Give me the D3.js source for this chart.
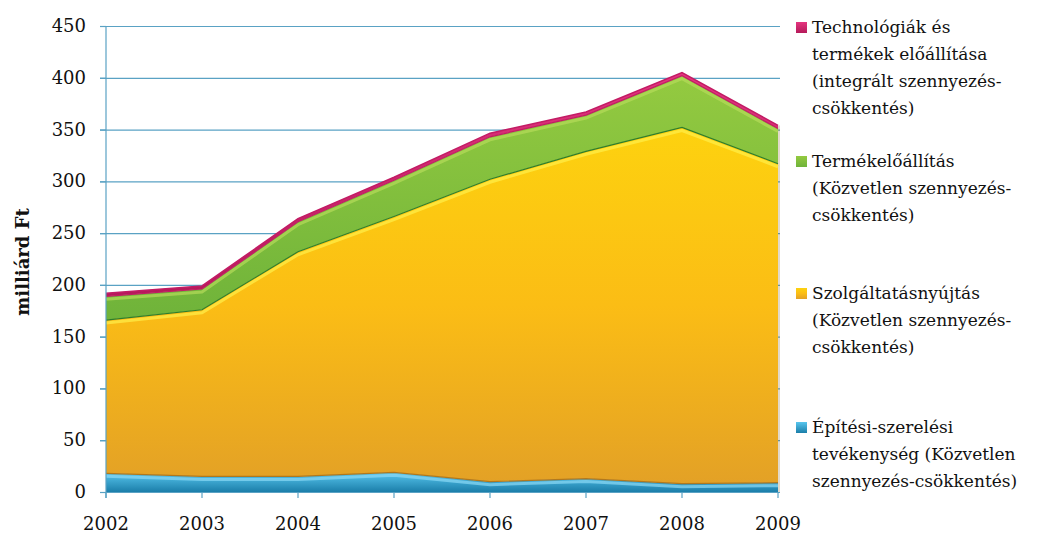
<!DOCTYPE html>
<html><head><meta charset="utf-8">
<script src="https://cdn.jsdelivr.net/npm/d3@7"></script>
<style>body{margin:0;background:#fff}svg{display:block}
svg text{font-family:"DejaVu Serif",serif;}</style>
</head><body>
<svg id="c" width="1044" height="535"></svg>
<script>
const years = [2002, 2003, 2004, 2005, 2006, 2007, 2008, 2009];
const epites = [18, 15, 15, 19, 10, 13, 8, 9];
const szolg = [148, 161, 217, 247, 292, 316, 344, 308];
const termek = [23, 20, 29, 35, 41, 35, 50, 34];
const techn = [3, 3, 3, 3, 3.5, 3, 3, 3];
const yTicks = [0, 50, 100, 150, 200, 250, 300, 350, 400, 450];
const seriesNames = ["epites", "szolg", "termek", "techn"];
const legendLines = [
  ["Technológiák és", "termékek előállítása", "(integrált szennyezés-", "csökkentés)"],
  ["Termékelőállítás", "(Közvetlen szennyezés-", "csökkentés)"],
  ["Szolgáltatásnyújtás", "(Közvetlen szennyezés-", "csökkentés)"],
  ["Építési-szerelési", "tevékenység (Közvetlen", "szennyezés-csökkentés)"]
];

const rows = years.map((y, i) => ({year: y, epites: epites[i], szolg: szolg[i], termek: termek[i], techn: techn[i]}));
const svg = d3.select("#c");
const x = d3.scaleLinear().domain([2002, 2009]).range([106, 778]);
const y = d3.scaleLinear().domain([0, 450]).range([492, 26]);

const defs = svg.append("defs");
function vgrad(id, stops) {
  const g = defs.append("linearGradient").attr("id", id).attr("x1", 0).attr("y1", 0).attr("x2", 0).attr("y2", 1);
  stops.forEach(s => g.append("stop").attr("offset", s[0]).attr("stop-color", s[1]));
}
vgrad("gY", [[0, "#fdd20f"], [0.5, "#fbbd15"], [1, "#e3a126"]]);
vgrad("gG", [[0, "#94ca40"], [1, "#6fb33a"]]);
vgrad("gB", [[0, "#58c6ee"], [1, "#1b7ea9"]]);
vgrad("gP", [[0, "#e4357f"], [1, "#b51a5a"]]);
const colors = {epites: "url(#gB)", szolg: "url(#gY)", termek: "url(#gG)", techn: "url(#gP)"};
const edge = {epites: "#b0781e", szolg: "#2f7d2a", termek: "#c21c64", techn: "#c21c64"};
const hi = {epites: "#8ad9f5", szolg: "#fff04a", termek: "#b5dc5a", techn: "#f05a98"};
const legendFill = ["url(#gP)", "url(#gG)", "url(#gY)", "url(#gB)"];

svg.append("g").selectAll("line").data(yTicks.filter(d => d > 0)).join("line")
  .attr("x1", 100).attr("x2", 780).attr("y1", d => y(d) + 0.5).attr("y2", d => y(d) + 0.5)
  .attr("stroke", "#5aa2c4").attr("stroke-width", 1.2);

const stack = d3.stack().keys(seriesNames)(rows);
const area = d3.area().x(d => x(d.data.year)).y0(d => y(d[0])).y1(d => y(d[1]));
const g = svg.append("g");
stack.forEach(s => {
  g.append("path").datum(s).attr("d", area).attr("fill", colors[s.key]);
});
stack.forEach(s => {
  if (s.key !== "techn") {
    g.append("path").datum(s).attr("d", d3.line().x(d => x(d.data.year)).y(d => y(d[1]) + 3)).attr("fill", "none")
      .attr("stroke", hi[s.key]).attr("stroke-width", 3).attr("opacity", 0.7);
  }
  g.append("path").datum(s).attr("d", d3.line().x(d => x(d.data.year)).y(d => y(d[1]))).attr("fill", "none")
    .attr("stroke", edge[s.key]).attr("stroke-width", s.key === "techn" ? 1.5 : 1.2);
});
svg.append("line").attr("x1", 779).attr("x2", 779).attr("y1", y(stack[3][7][1])).attr("y2", 492)
  .attr("stroke", "#8a6a30").attr("stroke-width", 1).attr("opacity", 0.5);

const axisColor = "#5aa2c4";
svg.append("line").attr("x1", 106).attr("x2", 106).attr("y1", 26).attr("y2", 498).attr("stroke", axisColor).attr("stroke-width", 1.2);
svg.append("line").attr("x1", 100).attr("x2", 780).attr("y1", 492.5).attr("y2", 492.5).attr("stroke", axisColor).attr("stroke-width", 1.2);
svg.append("g").selectAll("line").data(years).join("line")
  .attr("x1", d => x(d)).attr("x2", d => x(d)).attr("y1", 492).attr("y2", 498)
  .attr("stroke", axisColor).attr("stroke-width", 1.2);
svg.append("g").selectAll("line").data(yTicks).join("line")
  .attr("x1", 100).attr("x2", 106).attr("y1", d => y(d) + 0.5).attr("y2", d => y(d) + 0.5)
  .attr("stroke", axisColor).attr("stroke-width", 1.2);

svg.append("g").selectAll("text").data(yTicks).join("text")
  .attr("x", 86).attr("y", d => y(d) + 6).attr("text-anchor", "end")
  .attr("font-size", 18).attr("fill", "#111")
  .text(d => d);
svg.append("g").selectAll("text").data(years).join("text")
  .attr("x", d => x(d)).attr("y", 530).attr("text-anchor", "middle")
  .attr("font-size", 18).attr("fill", "#111")
  .text(d => d);
svg.append("text").attr("transform", "translate(29,262) rotate(-90)").attr("text-anchor", "middle")
  .attr("font-size", 18).attr("font-weight", "bold").attr("fill", "#111")
  .text("milliárd Ft");

const legendBase = [33, 167, 299, 433];
const lg = svg.append("g");
legendLines.forEach((lines, i) => {
  lg.append("rect").attr("x", 796).attr("y", legendBase[i] - 11).attr("width", 11).attr("height", 11)
    .attr("fill", legendFill[i]);
  lines.forEach((t, j) => {
    lg.append("text").attr("x", 812).attr("y", legendBase[i] + j * 27)
      .attr("font-size", 17).attr("fill", "#111").text(t);
  });
});
</script>
</body></html>
